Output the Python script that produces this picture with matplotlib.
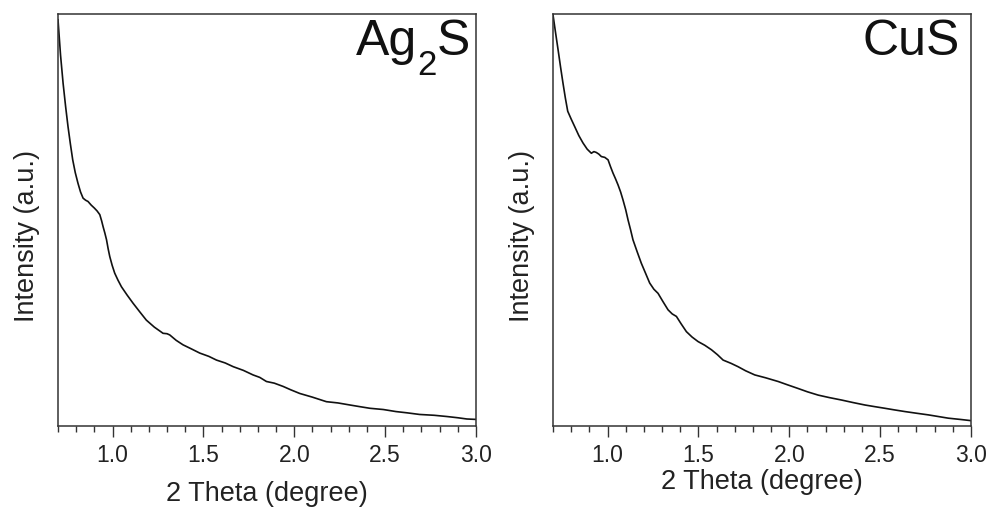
import matplotlib
matplotlib.use("Agg")
import matplotlib.pyplot as plt
from matplotlib.ticker import MultipleLocator

plt.rcParams['font.family'] = ['Liberation Sans', 'DejaVu Sans']

# Ag2S curve (2theta, normalized intensity)
ag_x = [0.70, 0.714, 0.728, 0.742, 0.755, 0.768, 0.781, 0.795, 0.81, 0.824, 0.838, 0.852, 0.865, 0.883,
        0.90, 0.915, 0.93, 0.94, 0.948, 0.958, 0.967, 0.976, 0.985, 0.998, 1.012, 1.03, 1.049, 1.08,
        1.113, 1.15, 1.186, 1.23, 1.278, 1.30, 1.315, 1.35, 1.388, 1.43, 1.48, 1.53, 1.572, 1.62,
        1.664, 1.72, 1.773, 1.81, 1.847, 1.89, 1.939, 1.98, 2.03, 2.10, 2.177, 2.24, 2.306, 2.36,
        2.416, 2.49, 2.56, 2.62, 2.69, 2.77, 2.84, 2.90, 2.95, 3.00]
ag_y = [0.986, 0.90, 0.832, 0.775, 0.727, 0.685, 0.646, 0.615, 0.589, 0.568, 0.553, 0.548, 0.545, 0.536,
        0.529, 0.522, 0.513, 0.498, 0.484, 0.468, 0.452, 0.430, 0.411, 0.390, 0.371, 0.354, 0.338, 0.318,
        0.298, 0.277, 0.257, 0.240, 0.225, 0.224, 0.221, 0.208, 0.197, 0.188, 0.177, 0.169, 0.160, 0.153,
        0.144, 0.135, 0.124, 0.118, 0.108, 0.104, 0.096, 0.088, 0.079, 0.070, 0.059, 0.056, 0.051, 0.047,
        0.043, 0.040, 0.035, 0.032, 0.028, 0.026, 0.023, 0.020, 0.017, 0.016]

# CuS curve
cu_x = [0.70, 0.714, 0.728, 0.742, 0.755, 0.768, 0.781, 0.80, 0.819, 0.842, 0.865, 0.888, 0.911, 0.925,
        0.938, 0.952, 0.966, 0.985, 1.003, 1.016, 1.03, 1.044, 1.058, 1.072, 1.085, 1.10, 1.113, 1.127,
        1.14, 1.163, 1.186, 1.21, 1.232, 1.255, 1.278, 1.305, 1.333, 1.356, 1.379, 1.405, 1.434, 1.465,
        1.498, 1.535, 1.572, 1.605, 1.636, 1.68, 1.718, 1.76, 1.81, 1.87, 1.939, 1.99, 2.049, 2.10,
        2.159, 2.22, 2.288, 2.35, 2.416, 2.47, 2.526, 2.58, 2.637, 2.70, 2.765, 2.82, 2.875, 2.94, 3.00]
cu_y = [0.998, 0.955, 0.913, 0.870, 0.832, 0.796, 0.764, 0.745, 0.727, 0.705, 0.687, 0.672, 0.662, 0.666,
        0.664, 0.660, 0.654, 0.652, 0.646, 0.630, 0.614, 0.600, 0.585, 0.568, 0.549, 0.525, 0.500, 0.476,
        0.452, 0.423, 0.395, 0.370, 0.347, 0.332, 0.322, 0.302, 0.282, 0.272, 0.266, 0.248, 0.229, 0.216,
        0.205, 0.196, 0.185, 0.173, 0.160, 0.152, 0.144, 0.134, 0.124, 0.117, 0.108, 0.100, 0.091, 0.083,
        0.075, 0.069, 0.063, 0.057, 0.051, 0.047, 0.043, 0.039, 0.035, 0.031, 0.027, 0.023, 0.019, 0.016, 0.013]

x_min, x_max = 0.7, 3.0
xticks = [1.0, 1.5, 2.0, 2.5, 3.0]
xlabel = "2 Theta (degree)"
ylabel = "Intensity (a.u.)"

fig = plt.figure(figsize=(9.95, 5.11), dpi=100)
W, H = 995, 511

def make_ax(left_px, xs, ys, xlabel_y):
    ax = fig.add_axes([left_px / W, (H - 426) / H, 418 / W, 412 / H])
    ax.plot(xs, ys, color='#111111', lw=1.2)
    ax.set_xlim(x_min, x_max)
    ax.set_ylim(0, 1.0)
    ax.set_xticks(xticks)
    ax.set_xticklabels([f"{t:.1f}" for t in xticks])
    ax.xaxis.set_minor_locator(MultipleLocator(0.1))
    ax.tick_params(axis='x', which='major', direction='out', length=8, width=1,
                   labelsize=16.5, colors='#333333', labelcolor='#222222', pad=5)
    ax.tick_params(axis='x', which='minor', direction='out', length=4.5, width=1, colors='#333333')
    ax.set_yticks([])
    for s in ax.spines.values():
        s.set_color('#333333')
        s.set_linewidth(1.1)
    ax.set_xlabel(xlabel, fontsize=19.5, color='#222222', va='center')
    ax.xaxis.set_label_coords(0.5, xlabel_y)
    ax.set_ylabel(ylabel, fontsize=19.5, color='#222222', va='center')
    ax.yaxis.set_label_coords(-0.074, 0.461)
    return ax

ax1 = make_ax(58, ag_x, ag_y, -0.165)
ax2 = make_ax(553, cu_x, cu_y, -0.136)

# Ag2S label built from pieces (large subscript as in the reference)
kw = dict(transform=ax1.transAxes, ha='right', va='baseline', color='#111111')
ax1.text(0.9856, 0.900, "S", fontsize=36, **kw)
ax1.text(0.9067, 0.852, "2", fontsize=25, **kw)
ax1.text(0.860, 0.900, "Ag", fontsize=36, **kw)

ax2.text(0.974, 0.900, "CuS", fontsize=36, transform=ax2.transAxes, ha='right',
         va='baseline', color='#111111')

fig.savefig("out.png", dpi=100)
